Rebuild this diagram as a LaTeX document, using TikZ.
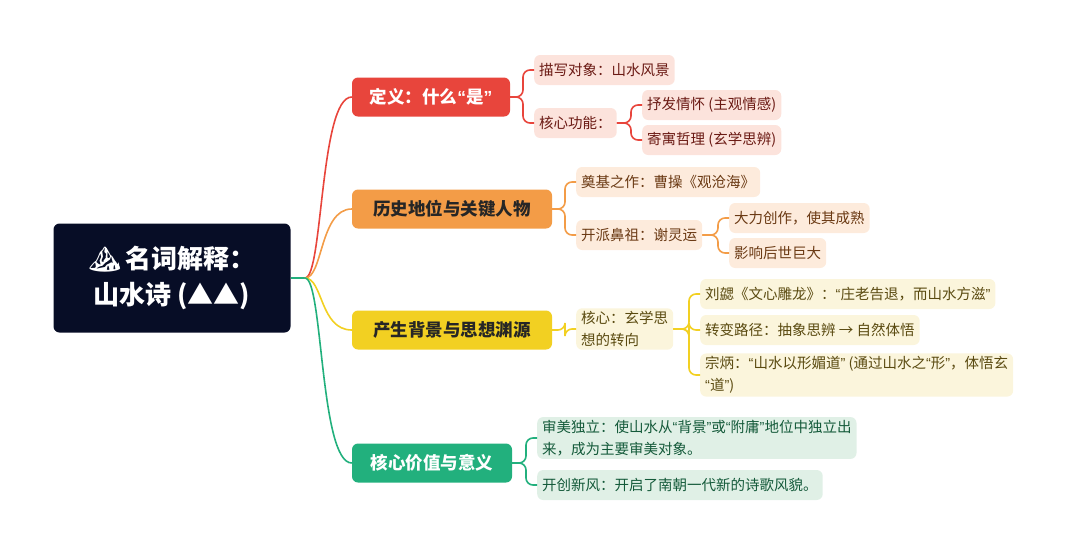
\documentclass[tikz,border=0pt]{standalone}
\usepackage{fontspec}
\setmainfont{Noto Sans CJK SC}
\newfontfamily\emo{Noto Emoji}
\newfontfamily\latq{Liberation Sans}
\newcommand\myqo{{\latq “}}
\newcommand\myqc{{\latq ”}}
\usetikzlibrary{calc}
\definecolor{cR}{HTML}{E8453C}\definecolor{cO}{HTML}{F39C47}
\definecolor{cY}{HTML}{F2D022}\definecolor{cG}{HTML}{22B07D}
\definecolor{cRoot}{HTML}{070D26}
\definecolor{lR}{HTML}{FCE3DC}\definecolor{tR}{HTML}{6B1A14}
\definecolor{lO}{HTML}{FDEBDC}\definecolor{tO}{HTML}{6B3A14}
\definecolor{lY}{HTML}{FBF5DC}\definecolor{tY}{HTML}{5A4A10}
\definecolor{lG}{HTML}{E0F0E6}\definecolor{tG}{HTML}{145A3A}
\tikzset{x=1pt,y=-1pt,
 rootbox/.style={fill=cRoot,rounded corners=6pt,text=white,font=\fontsize{26}{36}\selectfont\bfseries,align=center,minimum width=237,minimum height=109},
 branch/.style={rounded corners=6pt,font=\fontsize{17.5}{20}\selectfont\bfseries,minimum height=39,inner xsep=12pt},
 leaf/.style={rounded corners=6pt,font=\fontsize{14.5}{22}\selectfont,minimum height=30,inner xsep=5pt,inner ysep=3pt,align=left,anchor=west},
 conn/.style={line width=1.6pt,rounded corners=7pt},
}
\begin{document}
\begin{tikzpicture}
\useasboundingbox (0,0) rectangle (1080,555);
\node[rootbox] (root) at (172,278) {{\emo ⛰}\,名词解释：\\山水诗 (▲▲)};
\node[branch,fill=cR,text=white,minimum width=158] (b1) at (431,97) {定义：什么\myqo 是\myqc};
\node[branch,fill=cO,text=black!85,minimum width=200] (b2) at (452,209) {历史地位与关键人物};
\node[branch,fill=cY,text=black!85,minimum width=200] (b3) at (452,330) {产生背景与思想渊源};
\node[branch,fill=cG,text=white,minimum width=160] (b4) at (432,463) {核心价值与意义};
\coordinate (j) at (305,278);
\draw[cG,line width=1.6pt] (root.east) -- (j);
\foreach \b/\c in {b1/cR,b2/cO,b3/cY,b4/cG}
  \draw[\c,line width=1.6pt] (j) .. controls +(18,0) and +(-32,0) .. (\b.west);
\tikzset{lr/.style={leaf,fill=lR,text=tR}, lo/.style={leaf,fill=lO,text=tO}, ly/.style={leaf,fill=lY,text=tY}, lg/.style={leaf,fill=lG,text=tG}}
\node[lr] (r1) at (534,70) {描写对象：山水风景};
\node[lr] (r2) at (534,123) {核心功能：};
\node[lr] (r21) at (642,105) {抒发情怀 (主观情感)};
\node[lr] (r22) at (642,140) {寄寓哲理 (玄学思辨)};
\node[lo] (o1) at (576,182) {奠基之作：曹操《观沧海》};
\node[lo] (o2) at (576,235) {开派鼻祖：谢灵运};
\node[lo] (o21) at (729,218) {大力创作，使其成熟};
\node[lo] (o22) at (729,253) {影响后世巨大};
\node[ly] (y1) at (576,329) {核心：玄学思\\想的转向};
\node[ly] (y11) at (700,294) {刘勰《文心雕龙》：\myqo 庄老告退，而山水方滋\myqc};
\node[ly] (y12) at (700,330) {转变路径：抽象思辨 → 自然体悟};
\node[ly] (y13) at (700,375) {宗炳：\myqo 山水以形媚道\myqc{} (通过山水之\myqo 形\myqc，体悟玄\\\myqo 道\myqc)};
\node[lg] (g1) at (537,438) {审美独立：使山水从\myqo 背景\myqc 或\myqo 附庸\myqc 地位中独立出\\来，成为主要审美对象。};
\node[lg] (g2) at (537,485) {开创新风：开启了南朝一代新的诗歌风貌。};
\foreach \p/\c/\col in {b1/r1/cR,b1/r2/cR,r2/r21/cR,r2/r22/cR,b2/o1/cO,b2/o2/cO,o2/o21/cO,o2/o22/cO,b3/y1/cY,y1/y11/cY,y1/y12/cY,y1/y13/cY,b4/g1/cG,b4/g2/cG}
  \draw[conn,\col] (\p.east) -| ($(\c.west)+(-11,0)$) -- (\c.west);
\end{tikzpicture}
\end{document}
